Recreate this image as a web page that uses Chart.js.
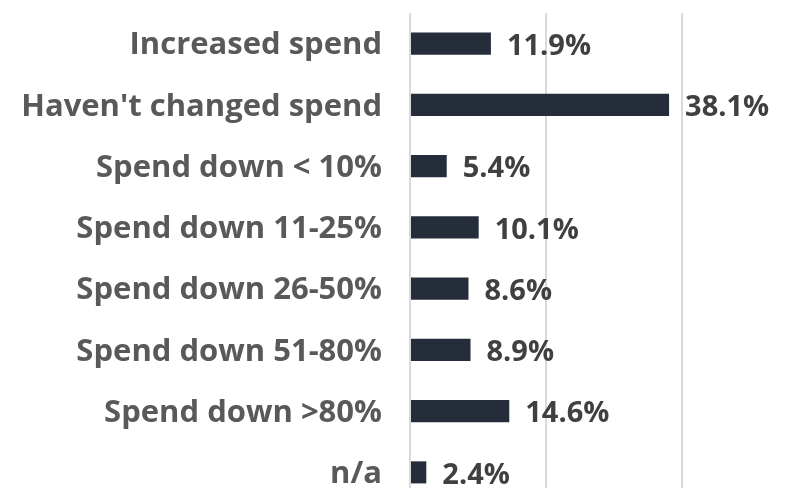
<!DOCTYPE html>
<html>
<head>
<meta charset="utf-8">
<script src="https://cdn.jsdelivr.net/npm/chart.js@4/dist/chart.umd.min.js"></script>
<style>
  html, body { margin: 0; padding: 0; background: #fff; overflow: hidden; }
  #wrap { position: relative; width: 786px; height: 503px; }
</style>
</head>
<body>
<div id="wrap"><canvas id="myChart"></canvas></div>
<script>
const categorias = [
    "Increased spend",
    "Haven't changed spend",
    "Spend down < 10%",
    "Spend down 11-25%",
    "Spend down 26-50%",
    "Spend down 51-80%",
    "Spend down >80%",
    "n/a"
];
const porcentajes = [11.9, 38.1, 5.4, 10.1, 8.6, 8.9, 14.6, 2.4];
const ticksX = [0, 20, 40];

const fuente = "'Open Sans', sans-serif";

// pinta el valor al lado de cada barra
const etiquetasValor = {
    id: "etiquetasValor",
    afterDatasetsDraw(chart) {
        const ctx = chart.ctx;
        const meta = chart.getDatasetMeta(0);
        ctx.save();
        ctx.font = "bold 29px " + fuente;
        ctx.fillStyle = "#404040";
        ctx.textAlign = "left";
        ctx.textBaseline = "middle";
        meta.data.forEach((barra, i) => {
            ctx.fillText(porcentajes[i].toFixed(1) + "%", barra.x + 16, barra.y + 3);
        });
        ctx.restore();
    }
};

const grafica = document.getElementById("myChart").getContext("2d");
const myChart = new Chart(grafica, {
    type: "bar",
    data: {
        labels: categorias,
        datasets: [{
            data: porcentajes,
            backgroundColor: "#262d3a",
            barPercentage: 0.6,
            categoryPercentage: 0.6
        }]
    },
    options: {
        indexAxis: "y",
        responsive: true,
        maintainAspectRatio: false,
        animation: false,
        layout: { padding: { top: 13, right: 104, bottom: 0, left: 0 } },
        plugins: {
            legend: { display: false },
            tooltip: { enabled: false }
        },
        scales: {
            x: {
                min: 0,
                max: 40,
                afterBuildTicks: scale => { scale.ticks = ticksX.map(v => ({ value: v })); },
                afterFit: scale => { scale.height = 0; },
                ticks: { display: false },
                grid: { color: "#d9d9d9", lineWidth: 2, drawTicks: false },
                border: { display: false }
            },
            y: {
                afterFit: scale => {
                    scale.width = 410;
                    scale.paddingTop = 0;
                    scale.paddingBottom = 0;
                },
                ticks: {
                    color: "#595959",
                    padding: 20,
                    labelOffset: 2,
                    font: { family: fuente, size: 31, weight: "bold" }
                },
                grid: { display: false },
                border: { display: false }
            }
        }
    },
    plugins: [etiquetasValor]
});
</script>
</body>
</html>
